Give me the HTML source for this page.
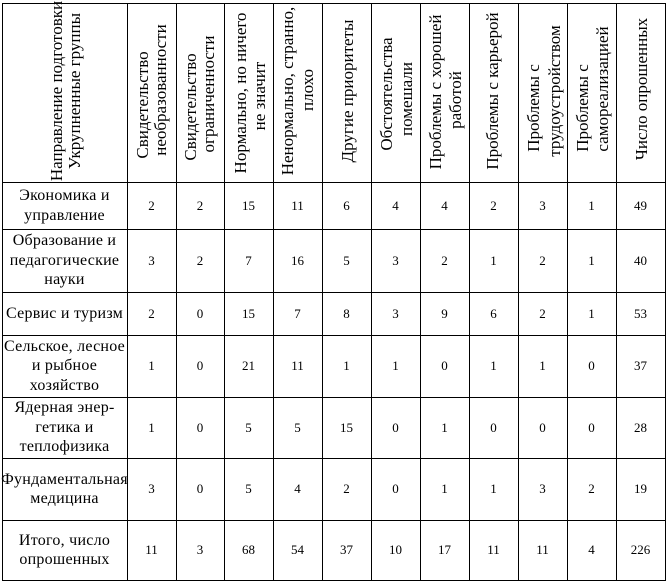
<!DOCTYPE html>
<html>
<head>
<meta charset="utf-8">
<style>
  html,body{margin:0;padding:0;background:#fff;}
  #c{position:relative;width:669px;height:586px;overflow:hidden;background:#fff;
     font-family:"Liberation Serif","DejaVu Serif",serif;color:#000;}
  .hl{position:absolute;left:2px;width:664px;height:1px;background:#000;}
  .vl{position:absolute;top:3px;width:1px;height:578px;background:#000;}
  .h{position:absolute;width:260px;height:20px;line-height:20px;font-size:17px;
     text-align:center;white-space:nowrap;transform:rotate(-90deg);}
  .lab{position:absolute;left:0;width:129px;display:flex;flex-direction:column;
       justify-content:center;align-items:center;font-size:16px;line-height:19.5px;
       letter-spacing:0.25px;text-align:center;white-space:nowrap;}
  .row{position:absolute;left:127px;width:538px;display:flex;font-size:13px;}
  .row div{display:flex;align-items:center;justify-content:center;width:49px;}
  .row div:nth-child(2){width:48px;}
</style>
</head>
<body>
<div id="c">
  <div class="hl" style="top:3px"></div>
  <div class="hl" style="top:182px"></div>
  <div class="hl" style="top:229px"></div>
  <div class="hl" style="top:292px"></div>
  <div class="hl" style="top:335px"></div>
  <div class="hl" style="top:397px"></div>
  <div class="hl" style="top:458px"></div>
  <div class="hl" style="top:520px"></div>
  <div class="hl" style="top:580px"></div>
  <div class="vl" style="left:2px"></div>
  <div class="vl" style="left:127px"></div>
  <div class="vl" style="left:176px"></div>
  <div class="vl" style="left:224px"></div>
  <div class="vl" style="left:273px"></div>
  <div class="vl" style="left:322px"></div>
  <div class="vl" style="left:371px"></div>
  <div class="vl" style="left:420px"></div>
  <div class="vl" style="left:469px"></div>
  <div class="vl" style="left:518px"></div>
  <div class="vl" style="left:567px"></div>
  <div class="vl" style="left:616px"></div>
  <div class="vl" style="left:665px"></div>

  <div class="h" style="left:-73px;top:81px">Направление подготовки</div>
  <div class="h" style="left:-55px;top:81px">Укрупненные группы</div>

  <div class="h" style="left:13px;top:95px">Свидетельство</div>
  <div class="h" style="left:31px;top:80px">необразованности</div>

  <div class="h" style="left:61px;top:97px">Свидетельство</div>
  <div class="h" style="left:79px;top:84px">ограниченности</div>

  <div class="h" style="left:111px;top:83px">Нормально, но ничего</div>
  <div class="h" style="left:130px;top:86px">не значит</div>

  <div class="h" style="left:158px;top:81px">Ненормально, странно,</div>
  <div class="h" style="left:178px;top:80px">плохо</div>

  <div class="h" style="left:218px;top:81px">Другие приоритеты</div>

  <div class="h" style="left:257px;top:84px">Обстоятельства</div>
  <div class="h" style="left:277px;top:89px">помешали</div>

  <div class="h" style="left:306px;top:82px">Проблемы с хорошей</div>
  <div class="h" style="left:326px;top:90px">работой</div>

  <div class="h" style="left:363px;top:81px">Проблемы с карьерой</div>

  <div class="h" style="left:404px;top:98px">Проблемы с</div>
  <div class="h" style="left:425px;top:81px">трудоустройством</div>

  <div class="h" style="left:453px;top:98px">Проблемы с</div>
  <div class="h" style="left:473px;top:79px">самореализацией</div>

  <div class="h" style="left:512px;top:79px">Число опрошенных</div>

  <div class="lab" style="top:182px;height:47px"><span>Экономика и</span><span>управление</span></div>
  <div class="lab" style="top:229px;height:63px"><span>Образование и</span><span>педагогические</span><span>науки</span></div>
  <div class="lab" style="top:292px;height:43px"><span>Сервис и туризм</span></div>
  <div class="lab" style="top:335px;height:62px"><span>Сельское, лесное</span><span>и рыбное</span><span>хозяйство</span></div>
  <div class="lab" style="top:397px;height:61px"><span>Ядерная энер-</span><span>гетика и</span><span>теплофизика</span></div>
  <div class="lab" style="top:458px;height:62px"><span>Фундаментальная</span><span>медицина</span></div>
  <div class="lab" style="top:520px;height:60px"><span>Итого, число</span><span>опрошенных</span></div>

  <div class="row" style="top:182px;height:47px"><div>2</div><div>2</div><div>15</div><div>11</div><div>6</div><div>4</div><div>4</div><div>2</div><div>3</div><div>1</div><div>49</div></div>
  <div class="row" style="top:229px;height:63px"><div>3</div><div>2</div><div>7</div><div>16</div><div>5</div><div>3</div><div>2</div><div>1</div><div>2</div><div>1</div><div>40</div></div>
  <div class="row" style="top:292px;height:43px"><div>2</div><div>0</div><div>15</div><div>7</div><div>8</div><div>3</div><div>9</div><div>6</div><div>2</div><div>1</div><div>53</div></div>
  <div class="row" style="top:335px;height:62px"><div>1</div><div>0</div><div>21</div><div>11</div><div>1</div><div>1</div><div>0</div><div>1</div><div>1</div><div>0</div><div>37</div></div>
  <div class="row" style="top:397px;height:61px"><div>1</div><div>0</div><div>5</div><div>5</div><div>15</div><div>0</div><div>1</div><div>0</div><div>0</div><div>0</div><div>28</div></div>
  <div class="row" style="top:458px;height:62px"><div>3</div><div>0</div><div>5</div><div>4</div><div>2</div><div>0</div><div>1</div><div>1</div><div>3</div><div>2</div><div>19</div></div>
  <div class="row" style="top:520px;height:60px"><div>11</div><div>3</div><div>68</div><div>54</div><div>37</div><div>10</div><div>17</div><div>11</div><div>11</div><div>4</div><div>226</div></div>
</div>
</body>
</html>
